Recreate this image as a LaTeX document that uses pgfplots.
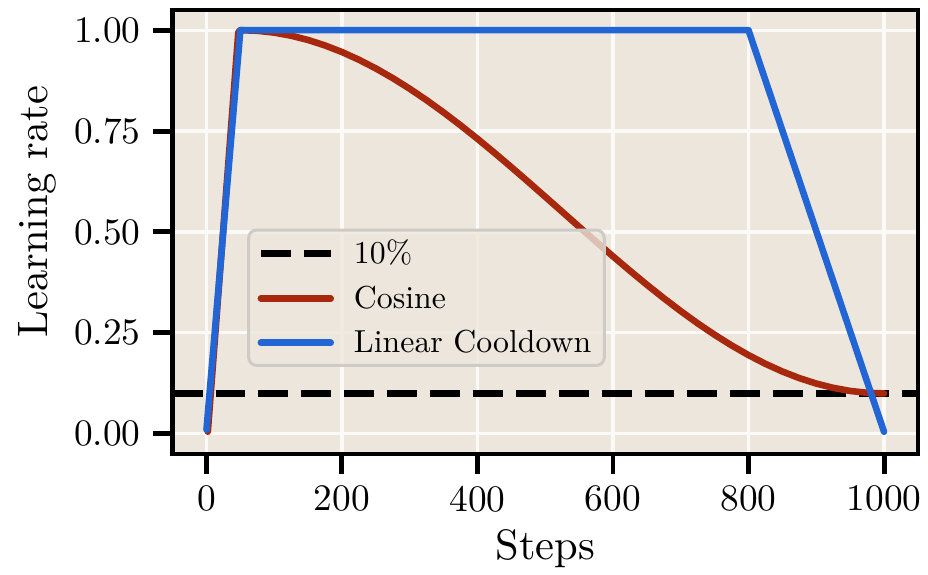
\documentclass[border=0pt]{standalone}
\usepackage{fontspec}
\setmainfont{lmroman10-regular}[Extension=.otf]
\usepackage{pgfplots}
\pgfplotsset{compat=1.18}
\definecolor{bg}{RGB}{236,230,221}
\definecolor{cred}{RGB}{168,40,14}
\definecolor{cblue}{RGB}{34,102,214}
\definecolor{lframe}{RGB}{206,203,198}
\begin{document}
\begin{tikzpicture}
\begin{axis}[
  scale only axis, width=373.5bp, height=222.5bp,
  xmin=-50, xmax=1050, ymin=-0.05, ymax=1.05,
  axis background/.style={fill=bg},
  axis line style={black, line width=2.2bp},
  xtick={0,200,400,600,800,1000}, ytick={0,0.25,0.5,0.75,1},
  xtick pos=bottom, ytick pos=left,
  /pgf/number format/assume math mode=true,
  xticklabel style={/pgf/number format/1000 sep={}, yshift=-2.5bp},
  yticklabel style={/pgf/number format/fixed, /pgf/number format/fixed zerofill, /pgf/number format/precision=2, xshift=-2.5bp},
  scaled ticks=false,
  tick align=outside, major tick length=10bp,
  major tick style={black, line width=2.5bp},
  grid=major, major grid style={white!80!bg, line width=1.6bp},
  tick label style={font=\fontsize{18.8}{22}\selectfont},
  label style={font=\fontsize{21.4}{26}\selectfont},
  xlabel={Steps}, ylabel={Learning rate},
  xlabel style={at={(axis description cs:0.5,-0.2135)}, anchor=center},
  ylabel style={at={(axis description cs:-0.181,0.546)}, anchor=center},
  legend style={at={(axis description cs:0.1,0.196)}, anchor=south west,
    fill=bg, fill opacity=0.8, text opacity=1, draw=lframe, line width=1.5bp,
    rounded corners=4bp, font=\fontsize{16}{18}\selectfont,
    row sep=5.5bp, column sep=8bp, inner xsep=4.5bp, inner ysep=3bp},
  legend cell align=left,
  legend image code/.code={\draw[#1] (0bp,0bp) -- (35bp,0bp);},
]
\addplot[black, line width=3.3bp, dash pattern=on 15bp off 6.5bp] coordinates {(-50,0.1) (1050,0.1)};
\addlegendentry{10\%}
\addplot[cred, line width=3.3bp, line cap=round, line join=round] coordinates {
(2,0.005) (47,0.995) (50,1.0) (75,0.99846) (100,0.99386) (125,0.98623) (150,0.97562)
(175,0.96210) (200,0.94576) (225,0.92672) (250,0.90511) (275,0.88108) (300,0.85478)
(325,0.82640) (350,0.79613) (375,0.76418) (400,0.73076) (425,0.69611) (450,0.66047)
(475,0.62407) (500,0.58716) (525,0.55) (550,0.51284) (575,0.47593) (600,0.43953)
(625,0.40389) (650,0.36924) (675,0.33582) (700,0.30387) (725,0.27360) (750,0.24522)
(775,0.21892) (800,0.19489) (825,0.17328) (850,0.15424) (875,0.13790) (900,0.12438)
(925,0.11377) (950,0.10614) (975,0.10154) (1000,0.1)};
\addlegendentry{Cosine}
\addplot[cblue, line width=3.3bp, line cap=round, line join=round] coordinates {
(0,0.01) (50,1) (800,1) (1000,0.005)};
\addlegendentry{Linear Cooldown}
\end{axis}
\path ([xshift=-86.5bp,yshift=-59bp]current axis.south west) rectangle ([xshift=4bp,yshift=5bp]current axis.north east);
\end{tikzpicture}
\end{document}
